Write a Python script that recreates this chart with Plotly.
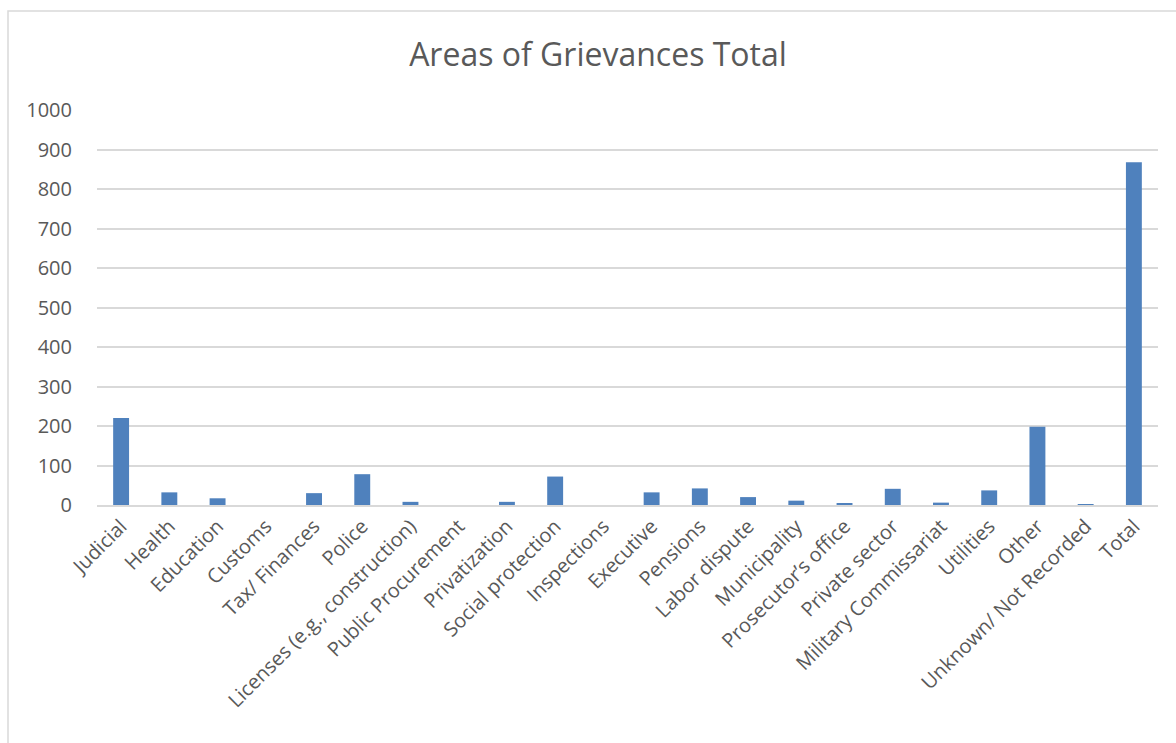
import plotly.graph_objects as go

categories = ["Judicial", "Health", "Education", "Customs", "Tax/ Finances", "Police",
              "Licenses (e.g., construction)", "Public Procurement", "Privatization",
              "Social protection", "Inspections", "Executive", "Pensions", "Labor dispute",
              "Municipality", "Prosecutor\u2019s office", "Private sector",
              "Military Commissariat", "Utilities", "Other", "Unknown/ Not Recorded", "Total"]
values = [220, 32, 17, 0, 30, 78, 8, 0, 8, 72, 0, 32, 42, 20, 11, 4, 41, 6, 37, 198, 2, 868]
y_ticks = list(range(0, 1001, 100))

W, H = 1176, 743
L, R, T, B = 97, 18, 110, 238
pw, ph = W - L - R, H - T - B

def px_to_paper_x(px):
    return (px - L) / pw

def px_to_paper_y(py):
    return (H - B - py) / ph

fig = go.Figure(go.Bar(
    x=categories, y=values,
    marker=dict(color="#4f81bd", line=dict(width=0)),
    width=0.33,
))

fig.update_layout(
    width=W, height=H,
    margin=dict(l=L, r=R, t=T, b=B),
    paper_bgcolor="white", plot_bgcolor="white",
    font=dict(family="Open Sans, sans-serif", color="#595959", size=18),
    title=dict(text="Areas of Grievances Total", x=0.5085, xanchor="center",
               y=1 - 55 / H, yanchor="middle",
               font=dict(size=32, color="#595959")),
    showlegend=False,
    bargap=0.67,
)
fig.update_xaxes(tickangle=-45, showgrid=False, showline=True, linecolor="#d9d9d9",
                 linewidth=1.5, ticks="", tickfont=dict(size=20, color="#595959"))
fig.update_yaxes(range=[0, 1000], tickvals=y_ticks, showgrid=True, gridcolor="#d9d9d9",
                 gridwidth=1.5, zeroline=False, showline=False, ticks="",
                 tickfont=dict(size=20, color="#595959"), ticklabelstandoff=24)

fig.add_shape(type="rect", xref="paper", yref="paper",
              x0=px_to_paper_x(8), x1=px_to_paper_x(1180),
              y0=px_to_paper_y(760), y1=px_to_paper_y(11),
              line=dict(color="#d9d9d9", width=1.5), fillcolor="rgba(0,0,0,0)", layer="below")

fig.write_html("out.html")
